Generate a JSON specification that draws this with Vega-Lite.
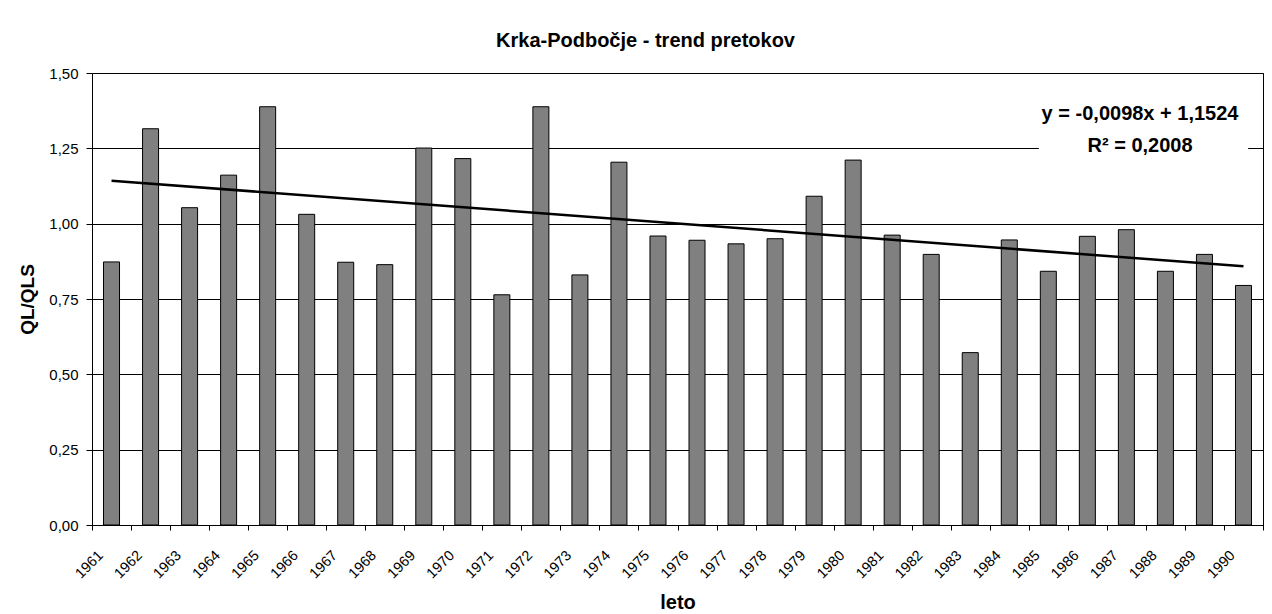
{
  "$schema": "https://vega.github.io/schema/vega-lite/v6.json",
  "width": 1171,
  "height": 452,
  "autosize": {"type": "none"},
  "padding": {"left": 92, "top": 73, "right": 9, "bottom": 89},
  "background": "white",
  "config": {
    "font": "Liberation Sans",
    "view": {"stroke": "#000", "strokeWidth": 1}
  },
  "title": {
    "text": "Krka-Podbočje - trend pretokov",
    "font": "Liberation Sans",
    "fontSize": 20,
    "fontWeight": "bold",
    "color": "#000",
    "anchor": "middle",
    "frame": "group",
    "dx": -32,
    "offset": 15
  },
  "datasets": {
    "flow": [
      {"year": 1961, "q": 0.873},
      {"year": 1962, "q": 1.315},
      {"year": 1963, "q": 1.053},
      {"year": 1964, "q": 1.161},
      {"year": 1965, "q": 1.388},
      {"year": 1966, "q": 1.031},
      {"year": 1967, "q": 0.872},
      {"year": 1968, "q": 0.864},
      {"year": 1969, "q": 1.251},
      {"year": 1970, "q": 1.216},
      {"year": 1971, "q": 0.764},
      {"year": 1972, "q": 1.388},
      {"year": 1973, "q": 0.830},
      {"year": 1974, "q": 1.204},
      {"year": 1975, "q": 0.959},
      {"year": 1976, "q": 0.945},
      {"year": 1977, "q": 0.933},
      {"year": 1978, "q": 0.950},
      {"year": 1979, "q": 1.091},
      {"year": 1980, "q": 1.211},
      {"year": 1981, "q": 0.962},
      {"year": 1982, "q": 0.898},
      {"year": 1983, "q": 0.572},
      {"year": 1984, "q": 0.946},
      {"year": 1985, "q": 0.842},
      {"year": 1986, "q": 0.958},
      {"year": 1987, "q": 0.980},
      {"year": 1988, "q": 0.842},
      {"year": 1989, "q": 0.898},
      {"year": 1990, "q": 0.795}
    ],
    "trend": [
      {"year": 1961, "q": 1.1426},
      {"year": 1990, "q": 0.8584}
    ],
    "box": [
      {"year": 1985, "year2": 1990, "q": 1.40, "q2": 1.19}
    ],
    "note": [
      {"year": 1987, "q": 1.364, "label": "y = -0,0098x + 1,1524"},
      {"year": 1987, "q": 1.258, "label": "R² = 0,2008"}
    ]
  },
  "layer": [
    {
      "data": {"name": "flow"},
      "mark": {"type": "bar", "fill": "#808080", "stroke": "#000", "strokeWidth": 1, "width": {"band": 0.41}},
      "encoding": {
        "x": {
          "field": "year",
          "type": "ordinal",
          "title": "leto",
          "scale": {"paddingInner": 0, "paddingOuter": 0},
          "axis": {
            "tickBand": "extent",
            "grid": false,
            "domainColor": "#000",
            "tickColor": "#000",
            "tickSize": 5,
            "labelAngle": -45,
            "labelAlign": "right",
            "labelBaseline": "middle",
            "labelOffset": -11,
            "labelPadding": 23,
            "labelFontSize": 14.5,
            "labelColor": "#000",
            "labelOverlap": false,
            "titleFontSize": 20,
            "titleFontWeight": "bold",
            "titleColor": "#000",
            "titlePadding": 12
          }
        },
        "y": {
          "field": "q",
          "type": "quantitative",
          "title": "QL/QLS",
          "scale": {"domain": [0, 1.5], "nice": false},
          "axis": {
            "values": [0, 0.25, 0.5, 0.75, 1, 1.25, 1.5],
            "labelExpr": "replace(format(datum.value, '.2f'), '.', ',')",
            "grid": true,
            "gridColor": "#000",
            "gridWidth": 1,
            "domainColor": "#000",
            "tickColor": "#000",
            "tickSize": 6,
            "labelPadding": 8,
            "labelFontSize": 15,
            "labelColor": "#000",
            "titleFontSize": 19,
            "titleFontWeight": "bold",
            "titleColor": "#000",
            "titlePadding": 11
          }
        }
      }
    },
    {
      "data": {"name": "box"},
      "mark": {"type": "rect", "fill": "white"},
      "encoding": {
        "x": {"field": "year", "type": "ordinal", "bandPosition": 0.26},
        "x2": {"field": "year2", "bandPosition": 0.62},
        "y": {"field": "q", "type": "quantitative"},
        "y2": {"field": "q2"}
      }
    },
    {
      "data": {"name": "trend"},
      "mark": {"type": "line", "color": "#000", "strokeWidth": 2.5},
      "encoding": {
        "x": {"field": "year", "type": "ordinal"},
        "y": {"field": "q", "type": "quantitative"}
      }
    },
    {
      "data": {"name": "note"},
      "mark": {"type": "text", "fontSize": 20, "fontWeight": "bold", "color": "#000", "align": "center", "baseline": "middle"},
      "encoding": {
        "x": {"field": "year", "type": "ordinal", "bandPosition": 0.85},
        "y": {"field": "q", "type": "quantitative"},
        "text": {"field": "label"}
      }
    }
  ]
}
